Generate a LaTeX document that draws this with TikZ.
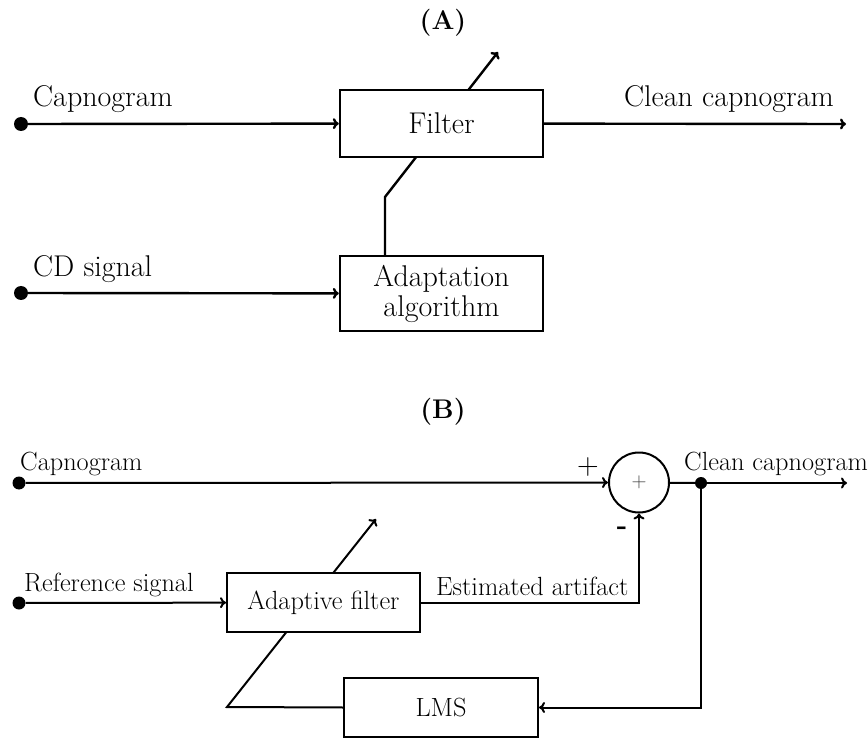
\documentclass[tikz,border=0pt]{standalone}
\usepackage{fontspec}
\usepackage{tikz}
\usepackage{xcolor}
\usetikzlibrary{backgrounds,arrows.meta}

\begin{document}
\begin{tikzpicture}[x=1pt,y=-1pt,>={To[length=6pt,width=11pt]}]
            \tikzset{BlockA/.style={%
                shape=rectangle,%
                draw=black,%
                fill=white,%
                line width=2.4pt,%
                align=center,%
                font=\fontsize{30}{30}\selectfont,%
            }}
            \tikzset{BlockB/.style={%
                shape=rectangle,%
                draw=black,%
                fill=white,%
                line width=2pt,%
                align=center,%
                font=\fontsize{26.3}{28}\selectfont,%
            }}
            \tikzset{Dot/.style={%
                shape=circle,%
                fill=black,%
                minimum size=14pt,%
                inner sep=0pt,%
            }}
            \tikzset{LabelA/.style={anchor=base west, inner sep=0pt, font=\fontsize{30}{30}\selectfont}}
            \tikzset{LabelB/.style={anchor=base west, inner sep=0pt, font=\fontsize{26.3}{28}\selectfont}}
            \tikzset{Title/.style={font=\fontsize{27}{28}\selectfont\bfseries}}
            \tikzset{WireA/.style={line width=2.4pt}}
            \tikzset{WireB/.style={line width=2pt}}

            \useasboundingbox (0,0) rectangle (868,738);

            \node[Title] (titleA) at (443,23) {(A)};
            \node[BlockA, minimum width=203pt, minimum height=67pt] (filt) at (441.5,123.5) {Filter};
            \node[BlockA, minimum width=203pt, minimum height=75pt] (adapt) at (441.5,293.5) {Adaptation\\algorithm};
            \node[Dot] (capA) at (21,124) {};
            \node[Dot] (cdA) at (21,293) {};
            \coordinate (outA) at (846,124);
            \coordinate (kinkA) at (385,197);
            \coordinate (tipA) at (498,52);
            \node[LabelA] (capAlbl) at (33,107) {Capnogram};
            \node[LabelA] (cdAlbl) at (33,277) {CD signal};
            \node[LabelA] (cleanAlbl) at (624,107) {Clean capnogram};

            \path (capA) edge[->, WireA] (filt);
            \path (cdA) edge[->, WireA] (adapt);
            \path (filt) edge[->, WireA] (outA);
            \begin{pgfonlayer}{background}
                \draw[->, WireA] (kinkA |- adapt.north) -- (kinkA) -- (tipA);
            \end{pgfonlayer}

            \node[Title] (titleB) at (443,412) {(B)};
            \node[BlockB, minimum width=193pt, minimum height=59pt] (afilt) at (323.5,602.5) {Adaptive filter};
            \node[BlockB, minimum width=194pt, minimum height=59pt] (lms) at (441,707.5) {LMS};
            \node[shape=circle, draw=black, line width=2pt, minimum size=60pt, inner sep=0pt] (sum) at (639,482.5) {};
            \node[text=black!75, font=\fontsize{20}{24}\selectfont] (sumsign) at (sum) {$+$};
            \node[Dot, minimum size=13pt] (capB) at (19,483) {};
            \node[Dot, minimum size=13pt] (refB) at (19,603) {};
            \node[Dot, minimum size=12pt] (jn) at (701,483) {};
            \coordinate (outB) at (847,483);
            \coordinate (kinkB) at (227,707);
            \coordinate (tipB) at (376,519);
            \node[LabelB] (capBlbl) at (20,470) {Capnogram};
            \node[LabelB] (refBlbl) at (24,591) {Reference signal};
            \node[LabelB] (estBlbl) at (436,595) {Estimated artifact};
            \node[LabelB] (cleanBlbl) at (684,470) {Clean capnogram};
            \node[font=\fontsize{30}{30}\selectfont] (plus) at (588,467) {+};
            \node[font=\fontsize{28}{30}\selectfont\bfseries] (minus) at (622,531) {-};

            \path (capB) edge[->, WireB] (sum);
            \path (refB) edge[->, WireB] (afilt);
            \path (sum) edge[WireB] (jn);
            \path (jn) edge[->, WireB] (outB);
            \draw[->, WireB] (afilt.east) -- (sum.south |- afilt.east) -- (sum.south);
            \draw[->, WireB] (jn) -- (jn |- lms.east) -- (lms.east);
            \begin{pgfonlayer}{background}
                \draw[->, WireB] (lms.west) -- (kinkB) -- (tipB);
            \end{pgfonlayer}
        \end{tikzpicture}
\end{document}
